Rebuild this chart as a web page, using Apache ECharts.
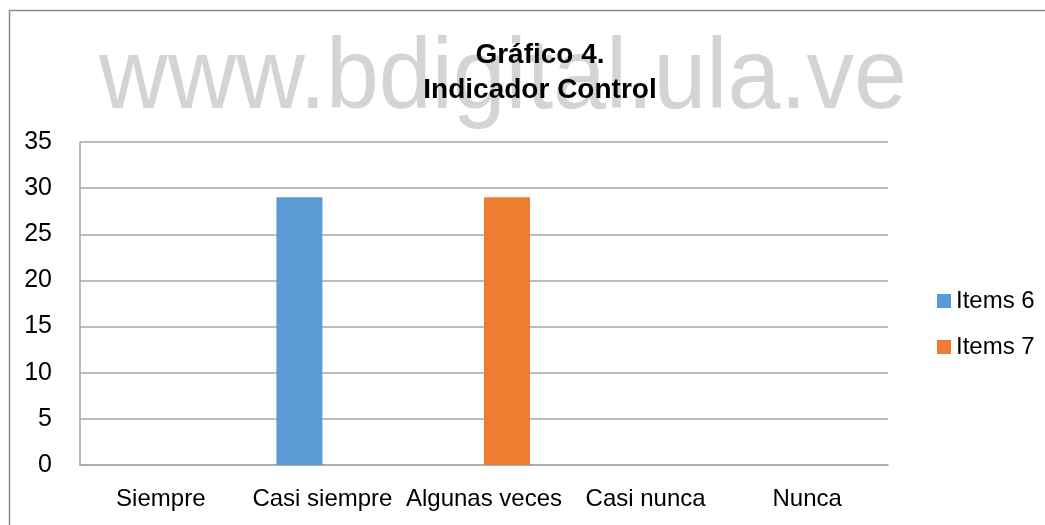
<!DOCTYPE html>
<html>
<head>
<meta charset="utf-8">
<script src="https://cdn.jsdelivr.net/npm/echarts@6/dist/echarts.min.js"></script>
<style>
  html, body { margin: 0; padding: 0; background: #fff; }
  #chart { width: 1045px; height: 525px; }
</style>
</head>
<body>
<div id="chart"></div>
<script>
// datos del gráfico
const categorias = ['Siempre', 'Casi siempre', 'Algunas veces', 'Casi nunca', 'Nunca'];
const items6 = [0, 29, 0, 0, 0];
const items7 = [0, 0, 29, 0, 0];
const yTicks = [0, 5, 10, 15, 20, 25, 30, 35];

const fuente = '"Liberation Sans Narrow", "Liberation Sans", sans-serif';

const chart = echarts.init(document.getElementById('chart'));
const option = {
  animation: false,
  backgroundColor: '#fff',
  graphic: [
    // marco del gráfico
    {
      type: 'rect',
      shape: { x: 9.5, y: 10.5, width: 1100, height: 600 },
      style: { fill: 'none', stroke: '#8c8c8c', lineWidth: 1.5 },
      z: 0
    },
    // marca de agua
    {
      type: 'text',
      x: 503, y: 80,
      scaleX: 0.95,
      style: {
        text: 'www.bdigital.ula.ve',
        fill: '#d4d4d4',
        font: '100px "Liberation Sans Narrow", "Liberation Sans", sans-serif',
        align: 'center',
        verticalAlign: 'middle'
      },
      z: 1
    }
  ],
  title: {
    text: 'Gráfico 4.\nIndicador Control',
    left: 535,
    textAlign: 'center',
    top: 33,
    textStyle: {
      fontFamily: fuente,
      fontSize: 28,
      fontWeight: 'bold',
      color: '#000',
      lineHeight: 35
    },
    z: 10
  },
  legend: {
    orient: 'vertical',
    left: 932,
    top: 284,
    itemWidth: 14,
    itemHeight: 14,
    itemGap: 22,
    icon: 'rect',
    textStyle: { fontFamily: fuente, fontSize: 24, color: '#000' },
    data: ['Items 6', 'Items 7']
  },
  grid: { left: 80, right: 157, top: 142, bottom: 60, containLabel: false },
  xAxis: {
    type: 'category',
    data: categorias,
    axisLine: { lineStyle: { color: '#a6a6a6', width: 1.5 } },
    axisTick: { show: false },
    axisLabel: { fontFamily: fuente, fontSize: 24, color: '#000', margin: 22, interval: 0 }
  },
  yAxis: {
    type: 'value',
    min: yTicks[0],
    max: yTicks[yTicks.length - 1],
    interval: 5,
    axisLine: { show: true, lineStyle: { color: '#a6a6a6', width: 1.5 } },
    axisTick: { show: false },
    splitLine: { lineStyle: { color: '#a6a6a6', width: 1.5 } },
    axisLabel: { fontFamily: fuente, fontSize: 25, color: '#000', margin: 28 }
  },
  series: [
    {
      name: 'Items 6',
      type: 'bar',
      data: items6,
      barWidth: 46,
      barGap: '0%',
      itemStyle: { color: '#5b9bd5' }
    },
    {
      name: 'Items 7',
      type: 'bar',
      data: items7,
      barWidth: 46,
      barGap: '0%',
      itemStyle: { color: '#ed7d31' }
    }
  ]
};
chart.setOption(option);
</script>
</body>
</html>
